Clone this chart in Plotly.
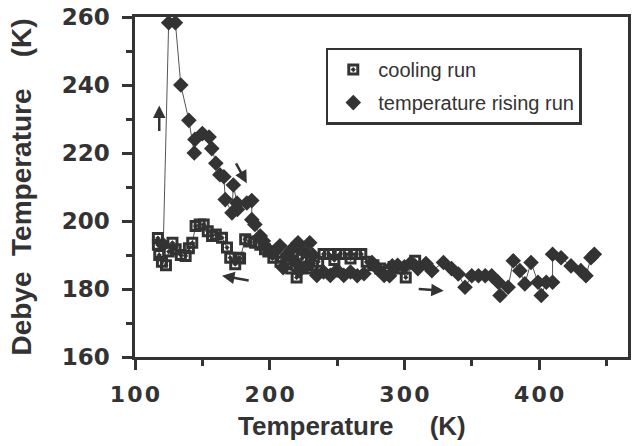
import plotly.graph_objects as go

# Temperature rising run: (T [K], Debye temperature [K])
rise_T = [121, 125, 130, 134, 140, 144, 144.5, 150, 155, 157, 160, 163, 166, 167,
          172, 173, 175.7, 176, 183, 186.7, 186.7, 189, 193, 195.3, 198, 202, 205,
          207.6, 210, 213, 216, 219, 221, 222, 225, 228, 229.7, 232, 235, 240, 245,
          250, 255, 260, 265, 270, 276, 280, 285, 289, 291, 295, 300, 305, 310, 316,
          320.4, 329, 335, 340, 345, 350, 355, 360, 364.8, 369.7, 371, 377, 380.8,
          385.7, 389.4, 394, 399.2, 401.6, 405.3, 410, 410, 416.3, 423.7, 431,
          434.8, 438.5, 441]
rise_D = [193, 258.3, 258.3, 240, 229.6, 220, 224, 225.7, 224.7, 221.3, 217, 213.6,
          213, 206.3, 202.4, 210.6, 205.3, 203.4, 205.3, 206, 200.4, 199, 195.6,
          194.1, 192, 190.5, 191.5, 192.7, 186.3, 190, 191.5, 188, 193.6, 185.4, 191,
          187, 193.6, 190, 184, 185, 184, 185.5, 184, 185, 183.9, 184.5, 187.8, 186,
          184, 183.9, 186.8, 187, 186.5, 187.8, 186, 187.5, 185.4, 187.8, 186, 184.4,
          180.5, 183.9, 183.9, 183.9, 183.9, 182, 178.1, 180.5, 188.3, 185.4, 181.5,
          187.8, 182, 178.1, 182, 182, 190.2, 189.2, 186.8, 185.4, 183.9, 189.2,
          190.2]

# Cooling run, in measurement order (high T to low T)
cool_T = [308, 301, 297, 292, 287, 282, 277, 272, 268, 264, 260, 256, 252, 248, 244,
          240, 236, 232, 228, 224, 220, 216, 212.5, 208, 202.7, 199, 196.5, 193,
          189.2, 185, 181.8, 178, 176.9, 174.4, 170.7, 168.3, 164.6, 160, 157.2, 154,
          151, 148, 145, 142.5, 140, 137.6, 134, 130.2, 127.8, 125, 123, 120, 118,
          117, 117]
cool_D = [188.3, 183.4, 186, 186.5, 185, 186, 187, 188, 190.3, 190.3, 189, 190.3,
          190.3, 188.5, 190.3, 190.3, 188, 187, 186, 189, 183.4, 186, 187.3, 188,
          189.2, 191, 191.7, 193, 193.6, 194, 194.6, 189, 189.2, 187.3, 189.2, 192.2,
          195.1, 196, 195.6, 197, 199, 199, 198.5, 193.6, 192, 189.7, 190, 191.7,
          193.6, 191, 187, 188, 190, 193, 195]

# Direction arrows: (tail T, tail D, head T, head D)
arrows = [
    (118, 226, 118, 234),
    (174.4, 217.4, 183, 211.1),
    (185.5, 182.4, 164.6, 183.9),
    (309.5, 180, 329.2, 179.5),
]

x_ticks = [100, 200, 300, 400]
x_ticktext = ["\u200a".join(str(v)) for v in x_ticks]
y_ticks = [160, 180, 200, 220, 240, 260]

INK = "#333333"
FONT = "Liberation Sans, Arial, sans-serif"
TICKFONT = "DejaVu Sans, sans-serif"
NB = "\u00a0"

fig = go.Figure()

# connecting lines (kept out of the legend)
for xs, ys in ((cool_T, cool_D), (rise_T, rise_D)):
    fig.add_trace(go.Scatter(x=xs, y=ys, mode="lines", showlegend=False,
                             hoverinfo="skip",
                             line=dict(color="#555555", width=1)))

fig.add_trace(go.Scatter(
    x=cool_T, y=cool_D, mode="markers", name="cooling run",
    legendgroup="a",
    marker=dict(symbol="square-open-dot", size=9, color=INK,
                line=dict(color=INK, width=3)),
))
fig.add_trace(go.Scatter(
    x=rise_T, y=rise_D, mode="markers", name="temperature rising run",
    legendgroup="b",
    marker=dict(symbol="diamond", size=12, color=INK),
))

for tx, ty, hx, hy in arrows:
    fig.add_annotation(x=hx, y=hy, ax=tx, ay=ty, xref="x", yref="y",
                       axref="x", ayref="y", text="", showarrow=True,
                       arrowhead=2, arrowsize=1, arrowwidth=2.5,
                       arrowcolor=INK)

# x-axis title, set slightly left of the axis centre
fig.add_annotation(text="Temperature" + NB * 5 + "(K)", xref="paper",
                   yref="paper", x=0.44, y=-0.204, xanchor="center",
                   yanchor="middle", showarrow=False,
                   font=dict(family=FONT, size=26, color=INK, weight="bold"))

axis_common = dict(
    showline=True, linecolor=INK, linewidth=2.5, mirror=True,
    showgrid=False, zeroline=False, ticks="outside", tickcolor=INK,
    tickwidth=2.5, ticklen=10,
)

fig.update_xaxes(
    range=[100, 466], tickvals=x_ticks, ticktext=x_ticktext,
    tickfont=dict(family=TICKFONT, size=22, color=INK, weight="bold"),
    ticklabelstandoff=6,
    minor=dict(tickvals=[150, 250, 350, 450], ticklen=6, tickwidth=2.5,
               tickcolor=INK, ticks="outside"),
    **axis_common,
)
fig.update_yaxes(
    range=[160, 260], tickvals=y_ticks,
    tickfont=dict(family=TICKFONT, size=23, color=INK, weight="bold"),
    ticklabelstandoff=8,
    minor=dict(tickvals=[170, 190, 210, 230, 250], ticklen=6, tickwidth=2.5,
               tickcolor=INK, ticks="outside"),
    title=dict(text="Debye" + NB * 2 + "Temperature" + NB * 4 + "(K)",
               font=dict(family=FONT, size=28, color=INK, weight="bold"),
               standoff=22),
    **axis_common,
)

fig.update_layout(
    width=635, height=446,
    margin=dict(l=135, r=4, t=14, b=89),
    paper_bgcolor="white", plot_bgcolor="white",
    showlegend=True,
    legend=dict(
        x=0.387, y=0.91, xanchor="left", yanchor="top",
        bgcolor="white", bordercolor=INK, borderwidth=2.5,
        font=dict(family=FONT, size=20, color=INK),
        tracegroupgap=4, traceorder="grouped", itemwidth=40,
    ),
)

fig.write_html("out.html")
